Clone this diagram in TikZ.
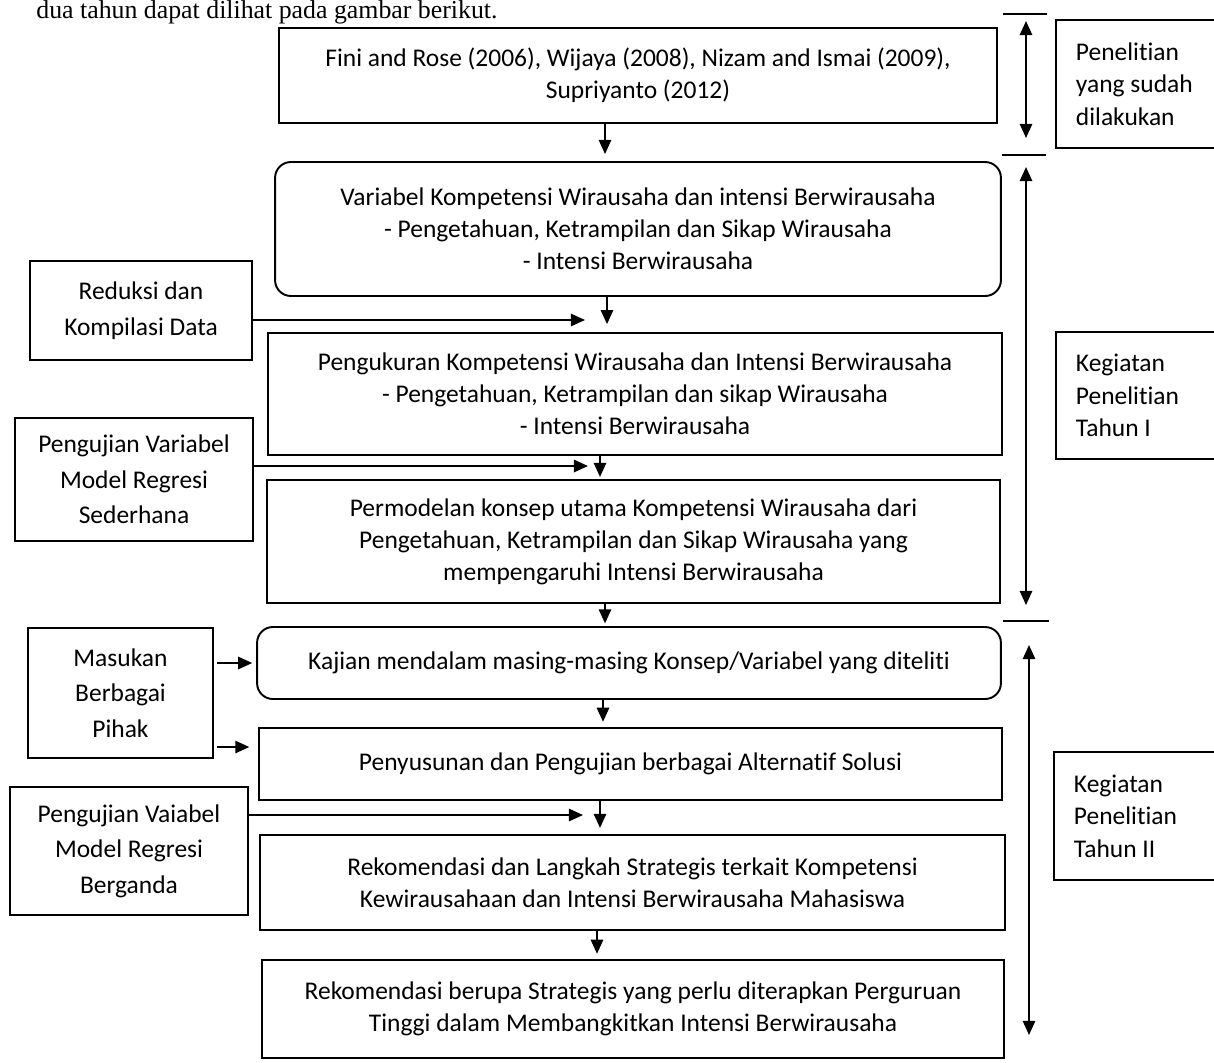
\documentclass[tikz,border=0pt]{standalone}
\usepackage{fontspec}
\setmainfont{Carlito}[RawFeature=-liga]
\newfontfamily\serifx{Liberation Serif}
\usetikzlibrary{arrows.meta}
\begin{document}
\begin{tikzpicture}[x=0.02cm,y=-0.02cm,
  box/.style={draw, line width=1.1pt, inner sep=0pt, align=center, font=\fontsize{14.5}{18.2}\selectfont},
  rbox/.style={box, rounded corners=9pt},
  sidebox/.style={draw, line width=1.1pt, align=center, inner sep=0pt, font=\fontsize{14.5}{20.2}\selectfont},
  labbox/.style={draw, line width=1.1pt, anchor=west, align=flush left, text width=3cm, inner xsep=0.4cm, inner ysep=0pt, minimum height=2.56cm, font=\fontsize{14.5}{18.4}\selectfont},
  arr/.style={line width=1.1pt, -{Triangle[length=8pt,width=7pt]}},
  dbl/.style={line width=1.1pt, {Triangle[length=8pt,width=7pt]}-{Triangle[length=8pt,width=7pt]}},
  bar/.style={line width=1.1pt}]
\useasboundingbox (0,0) rectangle (1214,1062);
\clip (0,0) rectangle (1214,1062);

% line of text above the figure
\node[anchor=base west, inner sep=0pt, font=\serifx\fontsize{14.7}{17}\selectfont] (intro) at (36,18) {dua tahun dapat dilihat pada gambar berikut.};

% main column
\node[box, minimum width=14.36cm, minimum height=1.9cm] (b1) at (638,75.5)
  {Fini and Rose (2006), Wijaya (2008), Nizam and Ismai (2009),\\Supriyanto (2012)};
\node[rbox, minimum width=14.52cm, minimum height=2.68cm] (b2) at (638,229)
  {Variabel Kompetensi Wirausaha dan intensi Berwirausaha\\- Pengetahuan, Ketrampilan dan Sikap Wirausaha\\- Intensi Berwirausaha};
\node[box, minimum width=14.68cm, minimum height=2.44cm] (b3) at (635,394)
  {Pengukuran Kompetensi Wirausaha dan Intensi Berwirausaha\\- Pengetahuan, Ketrampilan dan sikap Wirausaha\\- Intensi Berwirausaha};
\node[box, minimum width=14.66cm, minimum height=2.46cm] (b4) at (633.5,541.5)
  {Permodelan konsep utama Kompetensi Wirausaha dari\\Pengetahuan, Ketrampilan dan Sikap Wirausaha yang\\mempengaruhi Intensi Berwirausaha};
\node[rbox, minimum width=14.88cm, minimum height=1.44cm] (b5) at (629,663)
  {Kajian mendalam masing-masing Konsep/Variabel yang diteliti};
\node[box, minimum width=14.86cm, minimum height=1.44cm] (b6) at (630.5,764)
  {Penyusunan dan Pengujian berbagai Alternatif Solusi};
\node[box, minimum width=14.9cm, minimum height=1.9cm] (b7) at (632.5,882.5)
  {Rekomendasi dan Langkah Strategis terkait Kompetensi\\Kewirausahaan dan Intensi Berwirausaha Mahasiswa};
\node[box, minimum width=14.84cm, minimum height=1.96cm] (b8) at (633,1009)
  {Rekomendasi berupa Strategis yang perlu diterapkan Perguruan\\Tinggi dalam Membangkitkan Intensi Berwirausaha};

% left input boxes
\node[sidebox, minimum width=4.44cm, minimum height=1.98cm] (red) at (141,310.5) {Reduksi dan\\Kompilasi Data};
\node[sidebox, minimum width=4.76cm, minimum height=2.46cm] (pv) at (134,479.5) {Pengujian Variabel\\Model Regresi\\Sederhana};
\node[sidebox, minimum width=3.7cm, minimum height=2.6cm] (mas) at (120.5,693) {Masukan\\Berbagai\\Pihak};
\node[sidebox, minimum width=4.76cm, minimum height=2.56cm] (pg) at (129,851) {Pengujian Vaiabel\\Model Regresi\\Berganda};

% right label boxes
\node[labbox] (l1) at (1055,84) {Penelitian\\yang sudah\\dilakukan};
\node[labbox, minimum height=2.54cm] (l2) at (1055,395.5) {Kegiatan\\Penelitian\\Tahun I};
\node[labbox] (l3) at (1053,816) {Kegiatan\\Penelitian\\Tahun II};

% vertical flow arrows
\coordinate (x1) at (605,0);
\coordinate (x2) at (607,0);
\coordinate (x3) at (600,0);
\coordinate (x4) at (605,0);
\coordinate (x5) at (603,0);
\coordinate (x6) at (600,0);
\coordinate (x7) at (597,0);
\draw[arr, shorten >=4pt] (x1 |- b1.south) -- (x1 |- b2.north);
\draw[arr, shorten >=4.5pt] (x2 |- b2.south) -- (x2 |- b3.north);
\draw[arr, shorten >=1.2pt] (x3 |- b3.south) -- (x3 |- b4.north);
\draw[arr, shorten >=1.5pt] (x4 |- b4.south) -- (x4 |- b5.north);
\draw[arr, shorten >=3pt] (x5 |- b5.south) -- (x5 |- b6.north);
\draw[arr, shorten >=3.5pt] (x6 |- b6.south) -- (x6 |- b7.north);
\draw[arr, shorten >=3pt] (x7 |- b7.south) -- (x7 |- b8.north);

% horizontal input arrows
\coordinate (r1) at (585,320);
\coordinate (p1) at (588,466);
\coordinate (p2) at (583,815);
\coordinate (m2) at (0,747);
\draw[arr] (red.east |- r1) -- (r1);
\draw[arr] (pv.east |- p1) -- (p1);
\draw[arr] (pg.east |- p2) -- (p2);
\draw[arr, shorten <=1.7pt, shorten >=2.2pt] (mas.east |- b5.west) -- (b5.west);
\draw[arr, shorten <=1.7pt, shorten >=5pt] (mas.east |- m2) -- (b6.west |- m2);

% right-hand period markers
\coordinate (t0a) at (1003,14);  \coordinate (t0b) at (1047,14);
\coordinate (t1a) at (1002,155); \coordinate (t1b) at (1046,155);
\coordinate (t2a) at (1003,621); \coordinate (t2b) at (1049,621);
\draw[bar] (t0a) -- (t0b);
\draw[bar] (t1a) -- (t1b);
\draw[bar] (t2a) -- (t2b);
\coordinate (a1s) at (1026,21);  \coordinate (a1e) at (1026,138);
\coordinate (a2s) at (1026,167); \coordinate (a2e) at (1026,605);
\coordinate (a3s) at (1029,645); \coordinate (a3e) at (1029,1035);
\draw[dbl] (a1s) -- (a1e);
\draw[dbl] (a2s) -- (a2e);
\draw[dbl] (a3s) -- (a3e);
\end{tikzpicture}
\end{document}
